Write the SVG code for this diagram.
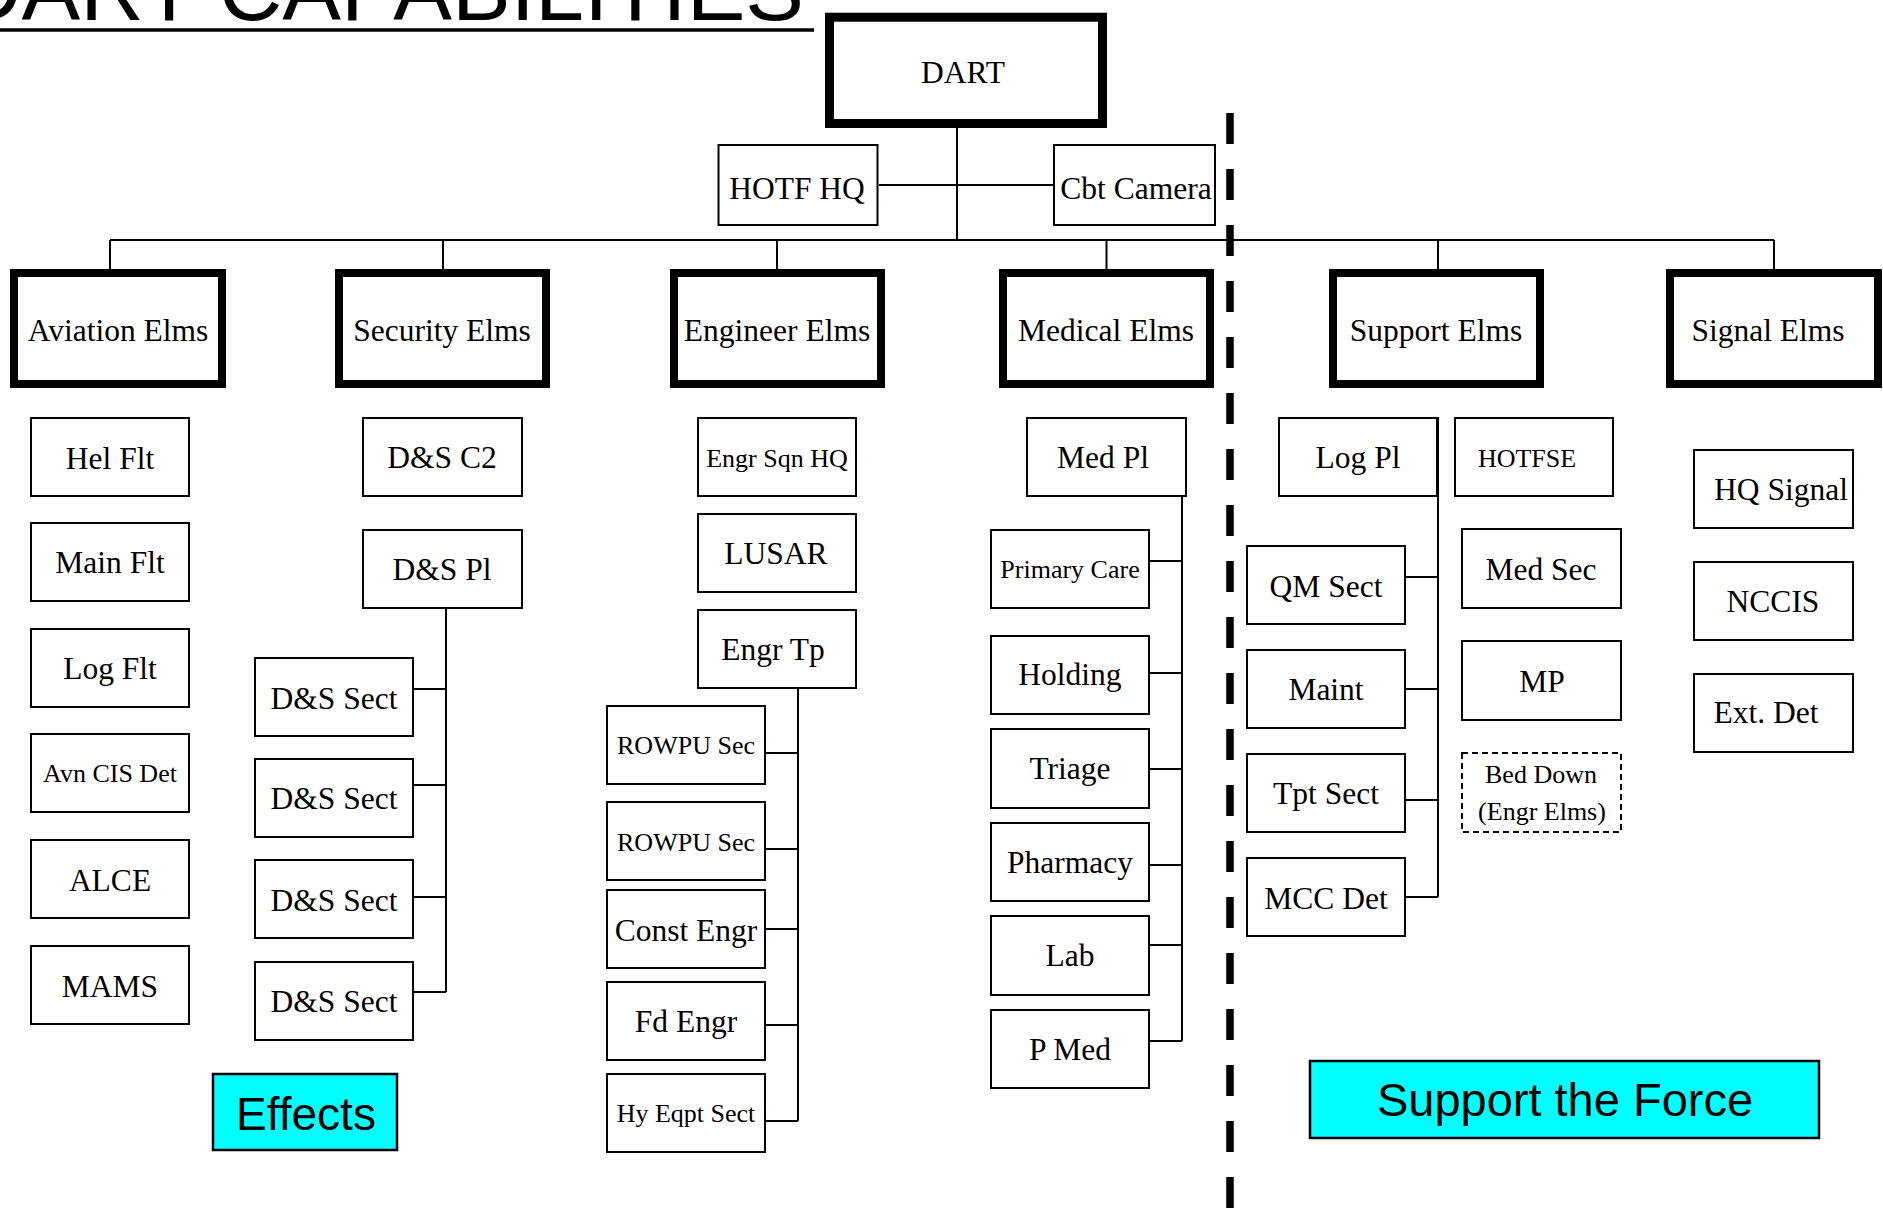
<svg xmlns="http://www.w3.org/2000/svg" width="1883" height="1211" viewBox="0 0 1883 1211">
<style>
.bg{fill:#fff}
.thick{fill:#fff;stroke:#000;stroke-width:8}
.box{fill:#fff;stroke:#000;stroke-width:2}
.dbox{fill:#fff;stroke:#000;stroke-width:2;stroke-dasharray:6 4}
.cyan{fill:#00FFFF;stroke:#000;stroke-width:2.5}
.t{font-family:"Liberation Serif","Times New Roman",serif;font-size:31.5px;text-anchor:middle;fill:#000}
.s{font-size:26px}
.sans{font-family:"Liberation Sans",Arial,sans-serif;fill:#000}
.c{stroke:#000;stroke-width:2;fill:none}
</style>
<rect class="bg" x="0" y="0" width="1883" height="1211"/>
<g id="title">
<text class="sans" x="-42" y="19.5" font-size="88">DART CAPABILITIES</text>
<line x1="0" y1="30" x2="814" y2="30" stroke="#000" stroke-width="3.5"/>
</g>
<line id="divider" x1="1230" y1="113" x2="1230" y2="1211" stroke="#000" stroke-width="7.5" stroke-dasharray="31 25"/>
<g id="connectors" class="c">
<path d="M957 128V240M879 185H1053"/>
<path d="M110 240H1774M110 240V269M443 240V269M777 240V269M1106.5 240V269M1438 240V269M1774 240V269"/>
<path d="M446 609V992M414 689H446M414 785H446M414 897H446M414 992H446"/>
<path d="M798 689V1121M766 753H798M766 849H798M766 929H798M766 1025H798M766 1121H798"/>
<path d="M1182 497V1041M1150 561H1182M1150 673H1182M1150 769H1182M1150 865H1182M1150 945H1182M1150 1041H1182"/>
<path d="M1438 417V897M1406 577H1438M1406 689H1438M1406 800H1438M1406 897H1438"/>
</g>
<g id="dart"><rect x="829.5" y="17.2" width="273" height="106.3" fill="#fff" stroke="#000" stroke-width="9"/><text class="t" x="963" y="83" font-size="28.5">DART</text></g>
<g id="hotf-hq"><rect class="box" x="718.5" y="145" width="159" height="80"/><text class="t" x="797" y="199" font-size="32">HOTF HQ</text></g>
<g id="cbt-camera"><rect class="box" x="1054" y="145" width="161" height="80"/><text class="t" x="1136" y="199" font-size="32">Cbt Camera</text></g>

<g id="aviation-elms"><rect class="thick" x="14" y="273" width="208" height="111"/><text class="t" x="118" y="341">Aviation Elms</text></g>
<g id="security-elms"><rect class="thick" x="339" y="273" width="207" height="111"/><text class="t" x="442" y="341">Security Elms</text></g>
<g id="engineer-elms"><rect class="thick" x="674" y="273" width="207" height="111"/><text class="t" x="777" y="341">Engineer Elms</text></g>
<g id="medical-elms"><rect class="thick" x="1003" y="273" width="207" height="111"/><text class="t" x="1106" y="341">Medical Elms</text></g>
<g id="support-elms"><rect class="thick" x="1333" y="273" width="207" height="111"/><text class="t" x="1436" y="341">Support Elms</text></g>
<g id="signal-elms"><rect class="thick" x="1670" y="273" width="208" height="111"/><text class="t" x="1768" y="341">Signal Elms</text></g>

<g id="hel-flt"><rect class="box" x="31" y="418" width="158" height="78"/><text class="t" x="110" y="469">Hel Flt</text></g>
<g id="main-flt"><rect class="box" x="31" y="523" width="158" height="78"/><text class="t" x="110" y="573">Main Flt</text></g>
<g id="log-flt"><rect class="box" x="31" y="629" width="158" height="78"/><text class="t" x="110" y="679">Log Flt</text></g>
<g id="avn-cis-det"><rect class="box" x="31" y="734" width="158" height="78"/><text class="t s" x="110" y="782">Avn CIS Det</text></g>
<g id="alce"><rect class="box" x="31" y="840" width="158" height="78"/><text class="t" x="110" y="891">ALCE</text></g>
<g id="mams"><rect class="box" x="31" y="946" width="158" height="78"/><text class="t" x="110" y="997">MAMS</text></g>

<g id="ds-c2"><rect class="box" x="363" y="418" width="159" height="78"/><text class="t" x="442" y="468">D&amp;S C2</text></g>
<g id="ds-pl"><rect class="box" x="363" y="530" width="159" height="78"/><text class="t" x="442" y="580">D&amp;S Pl</text></g>
<g id="ds-sect-1"><rect class="box" x="255" y="658" width="158" height="78"/><text class="t" x="334" y="709">D&amp;S Sect</text></g>
<g id="ds-sect-2"><rect class="box" x="255" y="759" width="158" height="78"/><text class="t" x="334" y="809">D&amp;S Sect</text></g>
<g id="ds-sect-3"><rect class="box" x="255" y="860" width="158" height="78"/><text class="t" x="334" y="911">D&amp;S Sect</text></g>
<g id="ds-sect-4"><rect class="box" x="255" y="962" width="158" height="78"/><text class="t" x="334" y="1012">D&amp;S Sect</text></g>

<g id="engr-sqn-hq"><rect class="box" x="698" y="418" width="158" height="78"/><text class="t s" x="777" y="467">Engr Sqn HQ</text></g>
<g id="lusar"><rect class="box" x="698" y="514" width="158" height="78"/><text class="t" x="776" y="564">LUSAR</text></g>
<g id="engr-tp"><rect class="box" x="698" y="610" width="158" height="78"/><text class="t" x="773" y="660">Engr Tp</text></g>
<g id="rowpu-sec-1"><rect class="box" x="607" y="706" width="158" height="78"/><text class="t s" x="686" y="754">ROWPU Sec</text></g>
<g id="rowpu-sec-2"><rect class="box" x="607" y="802" width="158" height="78"/><text class="t s" x="686" y="851">ROWPU Sec</text></g>
<g id="const-engr"><rect class="box" x="607" y="890" width="158" height="78"/><text class="t" x="686" y="941">Const Engr</text></g>
<g id="fd-engr"><rect class="box" x="607" y="982" width="158" height="78"/><text class="t" x="686" y="1032">Fd Engr</text></g>
<g id="hy-eqpt-sect"><rect class="box" x="607" y="1074" width="158" height="78"/><text class="t s" x="686" y="1122">Hy Eqpt Sect</text></g>

<g id="med-pl"><rect class="box" x="1027" y="418" width="159" height="78"/><text class="t" x="1103" y="468">Med Pl</text></g>
<g id="primary-care"><rect class="box" x="991" y="530" width="158" height="78"/><text class="t s" x="1070" y="578">Primary Care</text></g>
<g id="holding"><rect class="box" x="991" y="636" width="158" height="78"/><text class="t" x="1070" y="685">Holding</text></g>
<g id="triage"><rect class="box" x="991" y="729" width="158" height="79"/><text class="t" x="1070" y="779">Triage</text></g>
<g id="pharmacy"><rect class="box" x="991" y="823" width="158" height="78"/><text class="t" x="1070" y="873">Pharmacy</text></g>
<g id="lab"><rect class="box" x="991" y="916" width="158" height="79"/><text class="t" x="1070" y="966">Lab</text></g>
<g id="p-med"><rect class="box" x="991" y="1010" width="158" height="78"/><text class="t" x="1070" y="1060">P Med</text></g>

<g id="log-pl"><rect class="box" x="1279" y="418" width="158" height="78"/><text class="t" x="1358" y="468">Log Pl</text></g>
<g id="hotfse"><rect class="box" x="1455" y="418" width="158" height="78"/><text class="t s" x="1527" y="467">HOTFSE</text></g>
<g id="qm-sect"><rect class="box" x="1247" y="546" width="158" height="78"/><text class="t" x="1326" y="597">QM Sect</text></g>
<g id="maint"><rect class="box" x="1247" y="650" width="158" height="78"/><text class="t" x="1326" y="700">Maint</text></g>
<g id="tpt-sect"><rect class="box" x="1247" y="754" width="158" height="78"/><text class="t" x="1326" y="804">Tpt Sect</text></g>
<g id="mcc-det"><rect class="box" x="1247" y="858" width="158" height="78"/><text class="t" x="1326" y="909">MCC Det</text></g>
<g id="med-sec"><rect class="box" x="1462" y="529" width="159" height="79"/><text class="t" x="1541" y="580">Med Sec</text></g>
<g id="mp"><rect class="box" x="1462" y="641" width="159" height="79"/><text class="t" x="1542" y="692">MP</text></g>
<g id="bed-down"><rect class="dbox" x="1462" y="753" width="159" height="79"/><text class="t s" x="1541" y="783">Bed Down</text><text class="t s" x="1542" y="820">(Engr Elms)</text></g>

<g id="hq-signal"><rect class="box" x="1694" y="450" width="159" height="78"/><text class="t" x="1781" y="500">HQ Signal</text></g>
<g id="nccis"><rect class="box" x="1694" y="562" width="159" height="78"/><text class="t" x="1773" y="612">NCCIS</text></g>
<g id="ext-det"><rect class="box" x="1694" y="674" width="159" height="78"/><text class="t" x="1766" y="723">Ext. Det</text></g>

<g id="effects"><rect class="cyan" x="213" y="1074" width="184" height="76"/><text class="sans" x="306" y="1130" font-size="46" text-anchor="middle">Effects</text></g>
<g id="support-the-force"><rect class="cyan" x="1310" y="1061" width="509" height="77"/><text class="sans" x="1565" y="1116" font-size="47" text-anchor="middle">Support the Force</text></g>
</svg>
